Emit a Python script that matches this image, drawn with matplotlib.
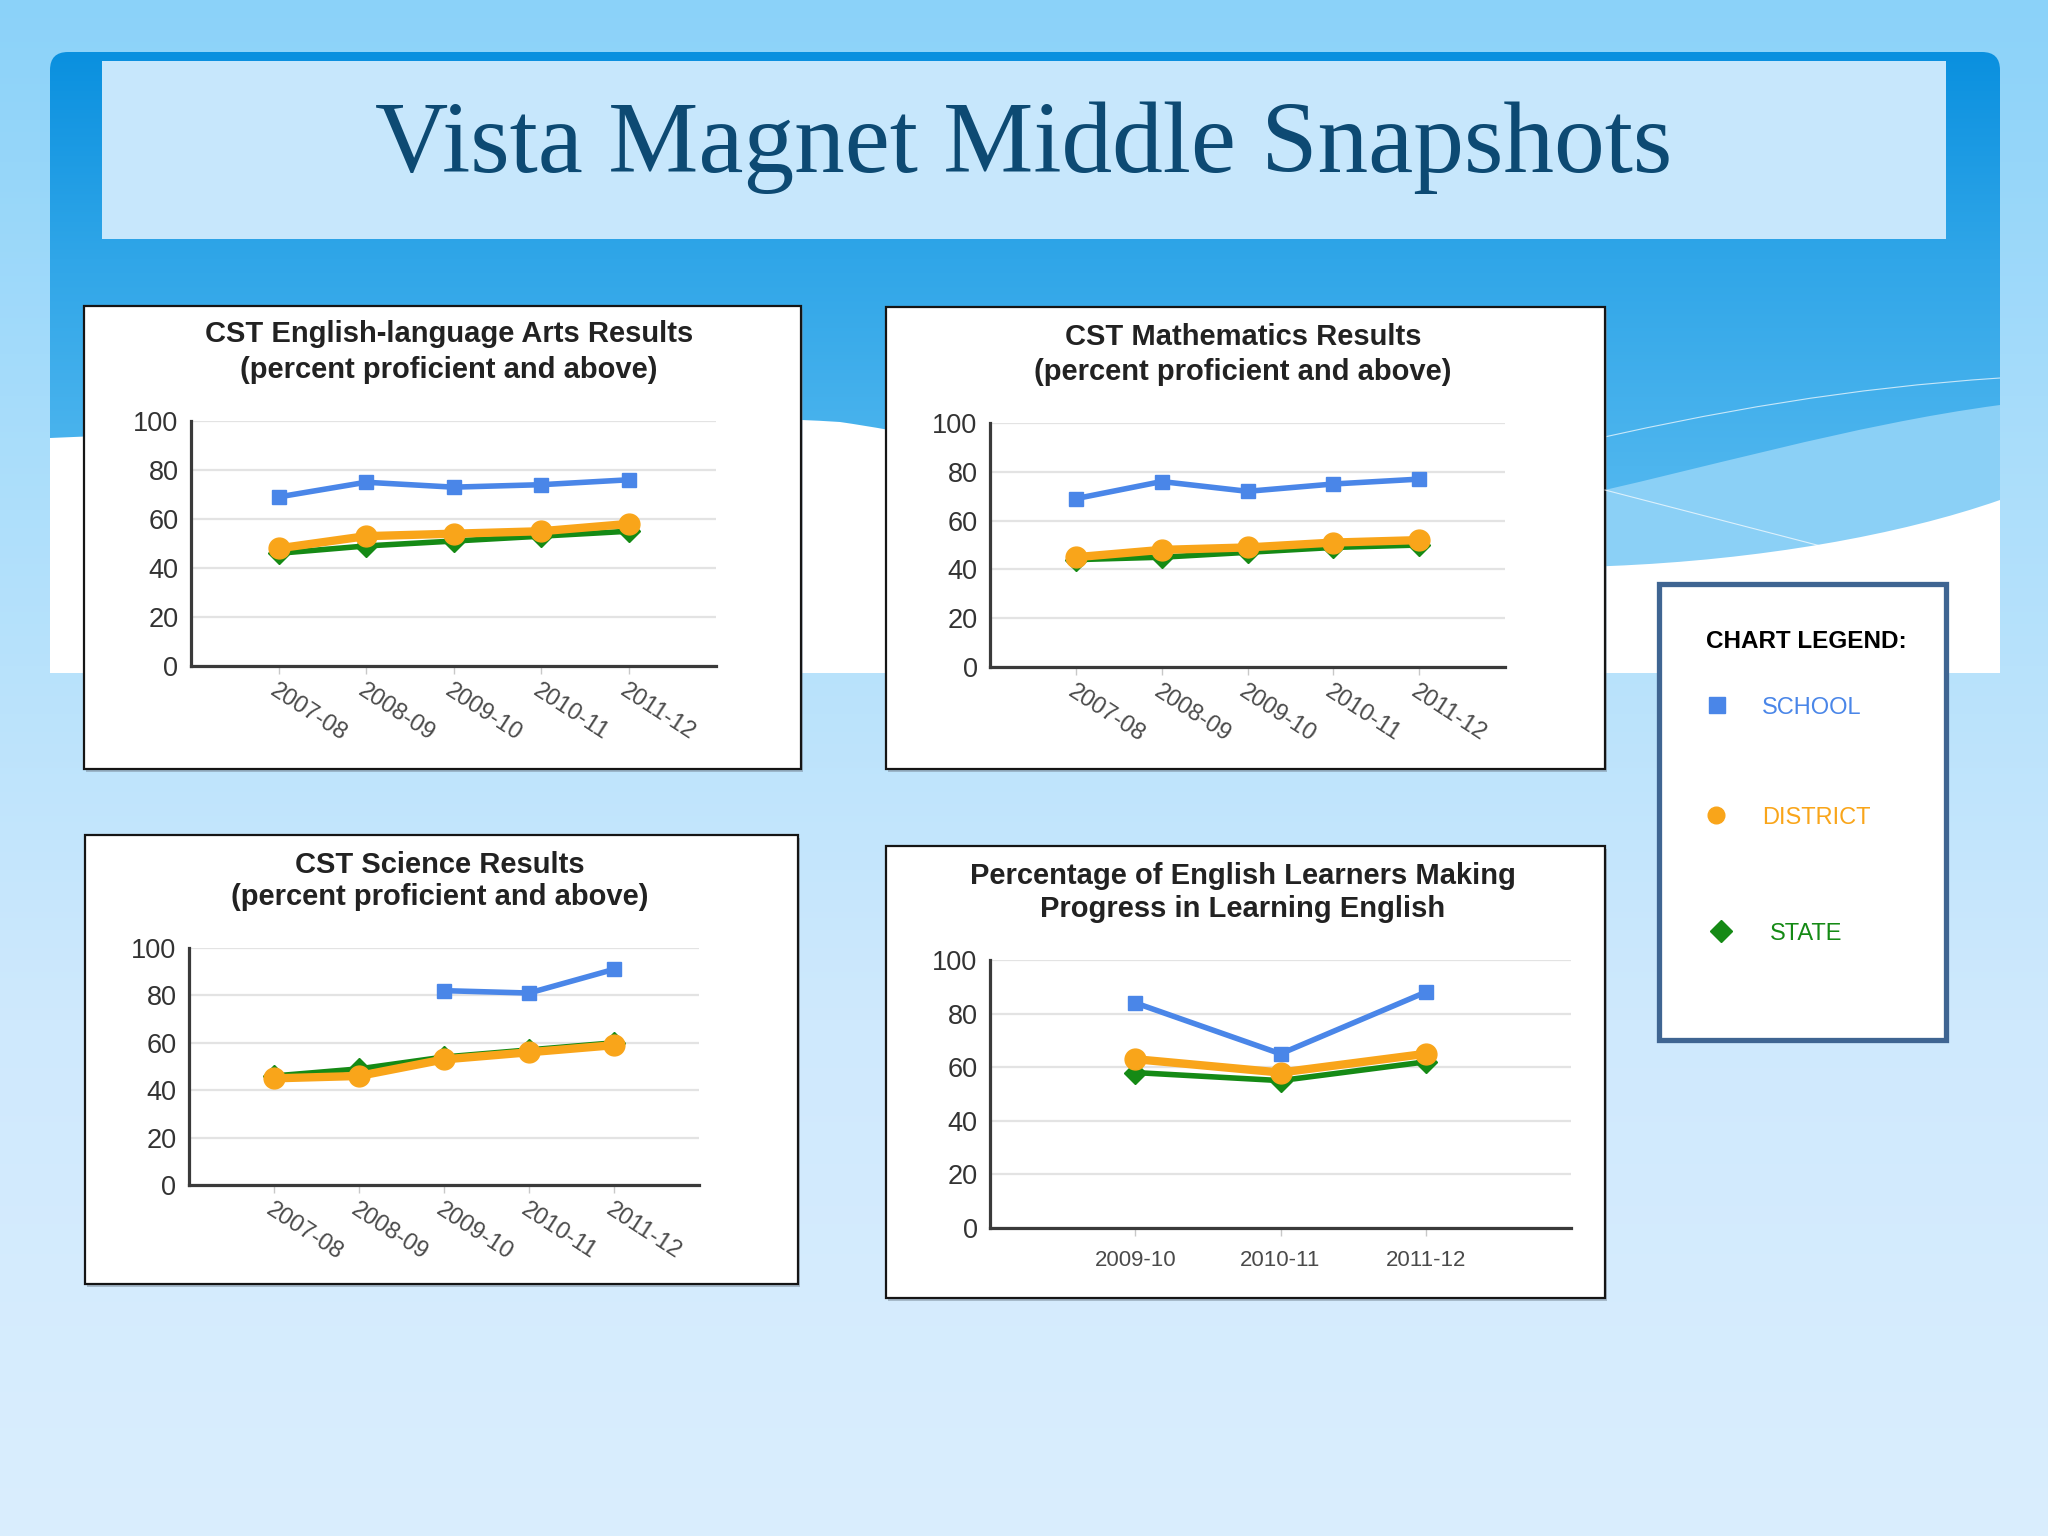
import numpy as np
import matplotlib
matplotlib.use("Agg")
import matplotlib.pyplot as plt
from matplotlib.colors import LinearSegmentedColormap
from matplotlib.patches import Rectangle, FancyBboxPatch, PathPatch
from matplotlib.path import Path

plt.rcParams['font.family'] = ['Liberation Sans', 'DejaVu Sans']

# ---- data ----
years_cst = ['2007-08', '2008-09', '2009-10', '2010-11', '2011-12']
years_el = ['2009-10', '2010-11', '2011-12']

ela_school = [69, 75, 73, 74, 76]
ela_district = [48, 53, 54, 55, 58]
ela_state = [46, 49, 51, 53, 55]

math_school = [69, 76, 72, 75, 77]
math_district = [45, 48, 49, 51, 52]
math_state = [44, 45, 47, 49, 50]

sci_school = [np.nan, np.nan, 82, 81, 91]
sci_district = [45, 46, 53, 56, 59]
sci_state = [46, 49, 54, 57, 60]

el_school = [84, 65, 88]
el_district = [63, 58, 65]
el_state = [58, 55, 62]

BLUE = '#4A86E8'
ORANGE = '#F9A51A'
GREEN = '#158A15'

W, H = 2048, 1536
fig = plt.figure(figsize=(W / 100, H / 100), dpi=100)

# ---- slide background ----
bg = fig.add_axes([0, 0, 1, 1])
bg.axis('off')
page_cmap = LinearSegmentedColormap.from_list('page', ['#8BD2F9', '#AEDFFB', '#CFE9FD', '#DAEEFD'])
bg.imshow(np.linspace(0, 1, 256).reshape(-1, 1), extent=[0, W, H, 0], cmap=page_cmap, aspect='auto')

box = FancyBboxPatch((50, 52), 1950, 621, boxstyle='round,pad=0,rounding_size=18',
                     facecolor='none', edgecolor='none')
bg.add_patch(box)
box_cmap = LinearSegmentedColormap.from_list('box', ['#0A90DF', '#30A6E8', '#4DB5EE', '#66C2F3'])
im = bg.imshow(np.linspace(0, 1, 256).reshape(-1, 1), extent=[50, 2000, 673, 52], cmap=box_cmap, aspect='auto')
im.set_clip_path(box)

# lighter wave band + thin lines on the right
band = Path([(1560, 500), (1700, 470), (1850, 425), (2000, 405), (2000, 673), (1560, 673), (1560, 500)],
            [Path.MOVETO, Path.CURVE4, Path.CURVE4, Path.CURVE4, Path.LINETO, Path.LINETO, Path.CLOSEPOLY])
bg.add_patch(PathPatch(band, facecolor='#8BD0F6', edgecolor='none'))
bg.add_patch(PathPatch(Path([(1560, 447), (1720, 410), (1850, 388), (2000, 378)],
                            [Path.MOVETO, Path.CURVE4, Path.CURVE4, Path.CURVE4]),
                       facecolor='none', edgecolor='white', lw=0.8, alpha=0.7))
bg.plot([1605, 1840], [490, 551], color='white', lw=0.8, alpha=0.7)

white = Path([(50, 438), (300, 428), (620, 408), (840, 422),
              (1100, 460), (1400, 575), (1610, 566),
              (1760, 560), (1900, 535), (2000, 500),
              (2000, 673), (50, 673), (50, 438)],
             [Path.MOVETO, Path.CURVE4, Path.CURVE4, Path.CURVE4,
              Path.CURVE4, Path.CURVE4, Path.CURVE4,
              Path.CURVE4, Path.CURVE4, Path.CURVE4,
              Path.LINETO, Path.LINETO, Path.CLOSEPOLY])
bg.add_patch(PathPatch(white, facecolor='white', edgecolor='none'))

# title strip
bg.add_patch(Rectangle((102, 61), 1844, 178, facecolor='#C7E7FC', edgecolor='none'))
bg.text(1024, 172, 'Vista Magnet Middle Snapshots', ha='center', va='baseline',
        fontsize=73, color='#0D4A73', family=['Liberation Serif', 'DejaVu Serif'])

# chart panels
panels = [(84, 306, 801, 769), (886, 307, 1605, 769), (85, 835, 798, 1284), (886, 846, 1605, 1298)]
for l, t, r, b in panels:
    bg.add_patch(Rectangle((l + 2, t + 3), r - l, b - t, facecolor='#7A8A99', edgecolor='none', alpha=0.5))
    bg.add_patch(Rectangle((l, t), r - l, b - t, facecolor='white', edgecolor='#151515', lw=1.6))

# legend box
bg.add_patch(Rectangle((1659, 584), 287, 456, facecolor='white', edgecolor='#3F6592', lw=3.8))
bg.text(1706, 641, 'CHART LEGEND:', fontsize=17.5, weight='bold', color='black', va='center')
legend_items = [('SCHOOL', 's', BLUE, 705, 1717, 1762, 11),
                ('DISTRICT', 'o', ORANGE, 815, 1716, 1762, 12),
                ('STATE', 'D', GREEN, 931, 1721, 1770, 11)]
for name, mk, col, y, mx, tx, ms in legend_items:
    bg.plot([mx], [y], marker=mk, color=col, ms=ms, ls='none')
    bg.text(tx, y + 3, name, fontsize=17, color=col, va='center')

bg.set_xlim(0, W)
bg.set_ylim(H, 0)


def px_axes(left, top, right, bottom):
    return fig.add_axes([left / W, 1 - bottom / H, (right - left) / W, (bottom - top) / H])


def draw_chart(ax, labels, school, district, state, rotate=True):
    x = np.arange(len(labels))
    ax.plot(x, state, color=GREEN, lw=4, marker='D', ms=11, zorder=3)
    ax.plot(x, district, color=ORANGE, lw=6, marker='o', ms=15, zorder=4)
    ax.plot(x, school, color=BLUE, lw=4, marker='s', ms=10.5, zorder=5)
    ax.set_xlim(-1, len(labels))
    ax.set_ylim(0, 100)
    ax.set_yticks(range(0, 101, 20))
    ax.set_facecolor('none')
    ax.grid(axis='y', color='#E3E3E3', lw=1.6)
    ax.set_axisbelow(True)
    for s in ['top', 'right']:
        ax.spines[s].set_visible(False)
    for s in ['left', 'bottom']:
        ax.spines[s].set_color('#3A3A3A')
        ax.spines[s].set_linewidth(2.3)
    ax.tick_params(axis='y', length=0, pad=9, labelsize=19.5, labelcolor='#333333')
    ax.set_xticks(x)
    if rotate:
        ax.tick_params(axis='x', length=6, width=1, color='#C8C8C8', pad=4, labelcolor='#4A4A4A')
        ax.set_xticklabels(labels, rotation=-33, ha='left', va='top', rotation_mode='anchor', fontsize=17)
    else:
        ax.tick_params(axis='x', length=6, width=1, color='#C8C8C8', pad=10, labelsize=16, labelcolor='#4A4A4A')
        ax.set_xticklabels(labels)


ax1 = px_axes(191, 421, 716, 666)
draw_chart(ax1, years_cst, ela_school, ela_district, ela_state)
ax2 = px_axes(990, 423, 1505, 667)
draw_chart(ax2, years_cst, math_school, math_district, math_state)
ax3 = px_axes(189, 948, 699, 1185)
draw_chart(ax3, years_cst, sci_school, sci_district, sci_state)
ax4 = px_axes(990, 960, 1571, 1228)
draw_chart(ax4, years_el, el_school, el_district, el_state, rotate=False)

titles = [(449, 334, 370, 'CST English-language Arts Results', '(percent proficient and above)'),
          (1243, 337, 372, 'CST Mathematics Results', '(percent proficient and above)'),
          (440, 865, 897, 'CST Science Results', '(percent proficient and above)'),
          (1243, 876, 909, 'Percentage of English Learners Making', 'Progress in Learning English')]
for cx, y1, y2, line1, line2 in titles:
    bg.text(cx, y1, line1, ha='center', va='center', fontsize=21, weight='bold', color='#222222')
    bg.text(cx, y2, line2, ha='center', va='center', fontsize=21, weight='bold', color='#222222')

fig.savefig('out.png', dpi=100)
